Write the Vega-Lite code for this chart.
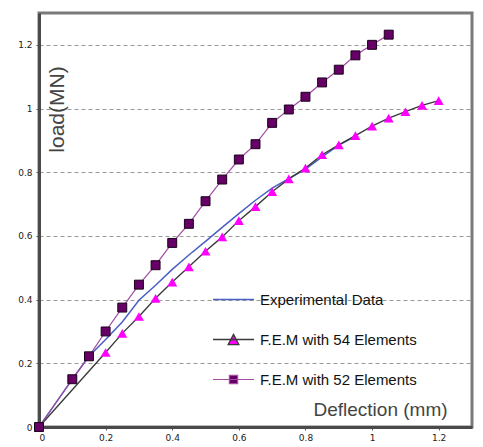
{
  "$schema": "https://vega.github.io/schema/vega-lite/v6.json",
  "width": 433,
  "height": 414,
  "autosize": "none",
  "padding": {"left": 39, "top": 13, "right": 11, "bottom": 20},
  "background": "white",
  "config": {
    "view": {"stroke": "#7a7a7a", "strokeWidth": 3},
    "axis": {
      "labelFont": "DejaVu Sans",
      "labelFontSize": 9,
      "labelColor": "#222222",
      "tickColor": "#555555",
      "tickSize": 3,
      "domainColor": "#4a4a4a",
      "domainWidth": 3,
      "titleFont": "Liberation Sans",
      "titleFontWeight": "normal",
      "titleFontSize": 19,
      "titleColor": "#444444"
    }
  },
  "data": {
    "values": [
      {"series": "Experimental Data", "x": 0, "y": 0},
      {"series": "Experimental Data", "x": 0.05, "y": 0.075},
      {"series": "Experimental Data", "x": 0.1, "y": 0.15},
      {"series": "Experimental Data", "x": 0.15, "y": 0.222},
      {"series": "Experimental Data", "x": 0.2, "y": 0.275},
      {"series": "Experimental Data", "x": 0.25, "y": 0.33},
      {"series": "Experimental Data", "x": 0.3, "y": 0.398},
      {"series": "Experimental Data", "x": 0.35, "y": 0.445},
      {"series": "Experimental Data", "x": 0.4, "y": 0.495},
      {"series": "Experimental Data", "x": 0.45, "y": 0.54},
      {"series": "Experimental Data", "x": 0.5, "y": 0.583},
      {"series": "Experimental Data", "x": 0.55, "y": 0.627},
      {"series": "Experimental Data", "x": 0.6, "y": 0.67},
      {"series": "Experimental Data", "x": 0.65, "y": 0.712},
      {"series": "Experimental Data", "x": 0.7, "y": 0.75},
      {"series": "Experimental Data", "x": 0.75, "y": 0.78},
      {"series": "Experimental Data", "x": 0.8, "y": 0.81},
      {"series": "Experimental Data", "x": 0.85, "y": 0.848},
      {"series": "Experimental Data", "x": 0.9, "y": 0.885},
      {"series": "Experimental Data", "x": 0.95, "y": 0.913},
      {"series": "F.E.M with 54 Elements", "x": 0, "y": 0},
      {"series": "F.E.M with 54 Elements", "x": 0.2, "y": 0.234},
      {"series": "F.E.M with 54 Elements", "x": 0.25, "y": 0.294},
      {"series": "F.E.M with 54 Elements", "x": 0.3, "y": 0.347},
      {"series": "F.E.M with 54 Elements", "x": 0.35, "y": 0.404},
      {"series": "F.E.M with 54 Elements", "x": 0.4, "y": 0.455},
      {"series": "F.E.M with 54 Elements", "x": 0.45, "y": 0.503},
      {"series": "F.E.M with 54 Elements", "x": 0.5, "y": 0.552},
      {"series": "F.E.M with 54 Elements", "x": 0.55, "y": 0.597},
      {"series": "F.E.M with 54 Elements", "x": 0.6, "y": 0.648},
      {"series": "F.E.M with 54 Elements", "x": 0.65, "y": 0.692},
      {"series": "F.E.M with 54 Elements", "x": 0.7, "y": 0.739},
      {"series": "F.E.M with 54 Elements", "x": 0.75, "y": 0.779},
      {"series": "F.E.M with 54 Elements", "x": 0.8, "y": 0.813},
      {"series": "F.E.M with 54 Elements", "x": 0.85, "y": 0.855},
      {"series": "F.E.M with 54 Elements", "x": 0.9, "y": 0.886},
      {"series": "F.E.M with 54 Elements", "x": 0.95, "y": 0.915},
      {"series": "F.E.M with 54 Elements", "x": 1.0, "y": 0.945},
      {"series": "F.E.M with 54 Elements", "x": 1.05, "y": 0.97},
      {"series": "F.E.M with 54 Elements", "x": 1.1, "y": 0.99},
      {"series": "F.E.M with 54 Elements", "x": 1.15, "y": 1.01},
      {"series": "F.E.M with 54 Elements", "x": 1.2, "y": 1.025},
      {"series": "F.E.M with 52 Elements", "x": 0, "y": 0},
      {"series": "F.E.M with 52 Elements", "x": 0.1, "y": 0.15},
      {"series": "F.E.M with 52 Elements", "x": 0.15, "y": 0.222},
      {"series": "F.E.M with 52 Elements", "x": 0.2, "y": 0.3},
      {"series": "F.E.M with 52 Elements", "x": 0.25, "y": 0.375},
      {"series": "F.E.M with 52 Elements", "x": 0.3, "y": 0.447},
      {"series": "F.E.M with 52 Elements", "x": 0.35, "y": 0.508},
      {"series": "F.E.M with 52 Elements", "x": 0.4, "y": 0.578},
      {"series": "F.E.M with 52 Elements", "x": 0.45, "y": 0.638},
      {"series": "F.E.M with 52 Elements", "x": 0.5, "y": 0.709},
      {"series": "F.E.M with 52 Elements", "x": 0.55, "y": 0.777},
      {"series": "F.E.M with 52 Elements", "x": 0.6, "y": 0.84},
      {"series": "F.E.M with 52 Elements", "x": 0.65, "y": 0.888},
      {"series": "F.E.M with 52 Elements", "x": 0.7, "y": 0.955},
      {"series": "F.E.M with 52 Elements", "x": 0.75, "y": 0.997},
      {"series": "F.E.M with 52 Elements", "x": 0.8, "y": 1.037},
      {"series": "F.E.M with 52 Elements", "x": 0.85, "y": 1.082},
      {"series": "F.E.M with 52 Elements", "x": 0.9, "y": 1.122},
      {"series": "F.E.M with 52 Elements", "x": 0.95, "y": 1.167},
      {"series": "F.E.M with 52 Elements", "x": 1.0, "y": 1.2},
      {"series": "F.E.M with 52 Elements", "x": 1.05, "y": 1.232}
    ]
  },
  "encoding": {
    "x": {
      "field": "x",
      "type": "quantitative",
      "scale": {"domain": [0, 1.3], "nice": false, "zero": false},
      "axis": {
        "values": [0, 0.2, 0.4, 0.6, 0.8, 1, 1.2],
        "format": "~g",
        "grid": false,
        "title": "Deflection (mm)",
        "titleX": 341,
        "titleY": -8,
        "titleAlign": "center",
        "titleBaseline": "bottom",
        "labelPadding": 3
      }
    },
    "y": {
      "field": "y",
      "type": "quantitative",
      "scale": {"domain": [0, 1.3], "nice": false},
      "axis": {
        "values": [0, 0.2, 0.4, 0.6, 0.8, 1, 1.2],
        "format": "~g",
        "grid": true,
        "gridDash": [4, 3],
        "gridColor": "#999999",
        "gridWidth": 1,
        "title": "load(MN)",
        "titleX": 18,
        "titleY": 96,
        "titleAngle": 270,
        "titleFontSize": 21,
        "titleAlign": "center",
        "titleBaseline": "middle",
        "labelPadding": 4
      }
    }
  },
  "layer": [
    {
      "mark": {"type": "line"},
      "encoding": {
        "color": {
          "field": "series",
          "type": "nominal",
          "scale": {
            "domain": ["Experimental Data", "F.E.M with 54 Elements", "F.E.M with 52 Elements"],
            "range": ["#4a5fc1", "#3a3a3a", "#a24ca2"]
          },
          "legend": {
            "orient": "none",
            "legendX": 173,
            "legendY": 265,
            "title": null,
            "symbolSize": 1681,
            "symbolStrokeWidth": 1.5,
            "labelFont": "Liberation Sans",
            "labelFontSize": 15,
            "labelColor": "#111111",
            "labelOffset": 5,
            "rowPadding": 10,
            "padding": 0,
            "encode": {
              "symbols": {
                "update": {
                  "shape": {"signal": "datum.value === 'Experimental Data' ? 'M-1,0H1' : datum.value === 'F.E.M with 54 Elements' ? 'M-1,0H1M0,-0.25L0.26,0.25L-0.26,0.25Z' : 'M-1,0H1M-0.2,-0.2H0.2V0.2H-0.2Z'"},
                  "fill": {"signal": "datum.value === 'F.E.M with 54 Elements' ? '#ff00ff' : datum.value === 'F.E.M with 52 Elements' ? '#660066' : 'transparent'"},
                  "opacity": {"value": 1},
                  "fillOpacity": {"value": 1}
                }
              }
            }
          }
        },
        "strokeWidth": {
          "field": "series",
          "type": "ordinal",
          "scale": {
            "domain": ["Experimental Data", "F.E.M with 54 Elements", "F.E.M with 52 Elements"],
            "range": [1.5, 1.2, 1]
          },
          "legend": null
        }
      }
    },
    {
      "transform": [{"filter": "datum.series === 'F.E.M with 54 Elements'"}],
      "mark": {"type": "point", "shape": "triangle-up", "filled": true, "color": "#ff00ff", "size": 100, "opacity": 1}
    },
    {
      "transform": [{"filter": "datum.series === 'F.E.M with 52 Elements'"}],
      "mark": {"type": "point", "shape": "square", "filled": true, "fill": "#660066", "stroke": "#1a001a", "strokeWidth": 1, "size": 80, "opacity": 1}
    }
  ]
}
